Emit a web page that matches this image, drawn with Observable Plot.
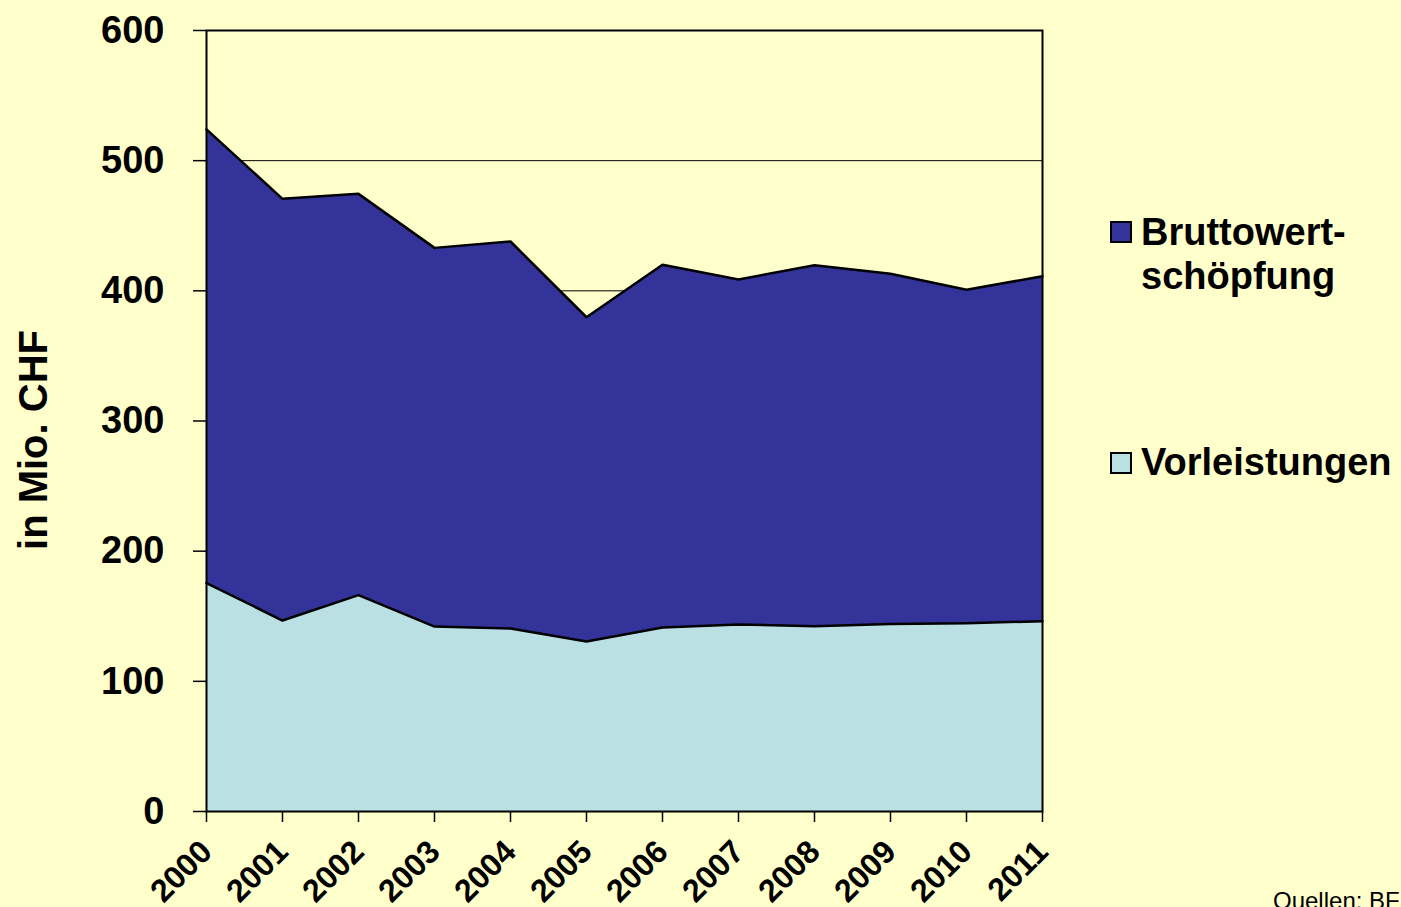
<!DOCTYPE html>
<html>
<head>
<meta charset="utf-8">
<script src="https://cdn.jsdelivr.net/npm/d3@7"></script>
<script src="https://cdn.jsdelivr.net/npm/@observablehq/plot@0.6"></script>
<style>
  html, body { margin: 0; padding: 0; background: #FFFFCC; overflow: hidden; }
  body { width: 1401px; height: 907px; position: relative; font-family: "Liberation Sans", Arial, sans-serif; }
  #chart { position: absolute; left: 0; top: 0; }
  .lab { position: absolute; white-space: nowrap; line-height: 1; color: #000; }
  .leg { font-weight: bold; font-size: 38px; }
  .sw { position: absolute; width: 18px; height: 18px; border: 2px solid #000; }
</style>
</head>
<body>
<div id="chart"></div>
<div class="lab" id="ylabel" style="font-weight:bold;font-size:40px;left:33px;top:440px;transform:translate(-50%,-50%) rotate(-90deg);">in Mio. CHF</div>
<div class="sw" style="left:1110px;top:221px;background:#333399;"></div>
<div class="lab leg" style="left:1141px;top:213px;">Bruttowert-</div>
<div class="lab leg" style="left:1141px;top:257px;">schöpfung</div>
<div class="sw" style="left:1110px;top:452px;background:#BBE0E3;"></div>
<div class="lab leg" style="left:1141px;top:443px;">Vorleistungen</div>
<div class="lab" style="left:1273px;top:889px;font-size:24px;">Quellen: BFS</div>
<script>
const years = [2000, 2001, 2002, 2003, 2004, 2005, 2006, 2007, 2008, 2009, 2010, 2011];
const vorleistungen = [175.5, 146.7, 166.2, 142.1, 140.6, 130.6, 141.4, 143.7, 142.4, 144.0, 144.7, 146.2];
const bruttowertschoepfung = [348.5, 324.0, 308.3, 290.9, 297.3, 249.1, 278.6, 265.0, 277.3, 269.1, 256.1, 265.0];
const seriesNames = ["Vorleistungen", "Bruttowertschöpfung"];
const seriesColors = ["#BBE0E3", "#333399"];
const yTicks = [0, 100, 200, 300, 400, 500, 600];

const data = years.flatMap((year, i) => [
  {year, series: seriesNames[0], value: vorleistungen[i]},
  {year, series: seriesNames[1], value: bruttowertschoepfung[i]}
]);

const chart = Plot.plot({
  width: 1401,
  height: 907,
  marginLeft: 206,
  marginRight: 359,
  marginTop: 30,
  marginBottom: 96,
  style: {background: "#FFFFCC", fontFamily: "'Liberation Sans', Arial, sans-serif", fontWeight: "bold", color: "#000", overflow: "visible"},
  x: {type: "linear", domain: [2000, 2011]},
  y: {domain: [0, 600]},
  color: {domain: seriesNames, range: seriesColors},
  marks: [
    Plot.gridY(yTicks, {stroke: "#000", strokeOpacity: 1, strokeWidth: 1}),
    Plot.areaY(data, {x: "year", y: "value", fill: "series", z: "series"}),
    Plot.lineY(data, Plot.stackY2({x: "year", y: "value", z: "series", stroke: "#000", strokeWidth: 2.5})),
    Plot.frame({stroke: "#000", strokeWidth: 2}),
    Plot.axisY(yTicks, {tickSize: 13, tickPadding: 29, fontSize: 38, fontWeight: "bold", label: null, strokeWidth: 1.5}),
    Plot.axisX(years, {tickSize: 11, tickPadding: 24, tickRotate: -45, fontSize: 32, fontWeight: "bold", tickFormat: "d", label: null, strokeWidth: 1.5})
  ]
});
document.getElementById("chart").appendChild(chart);
</script>
</body>
</html>
